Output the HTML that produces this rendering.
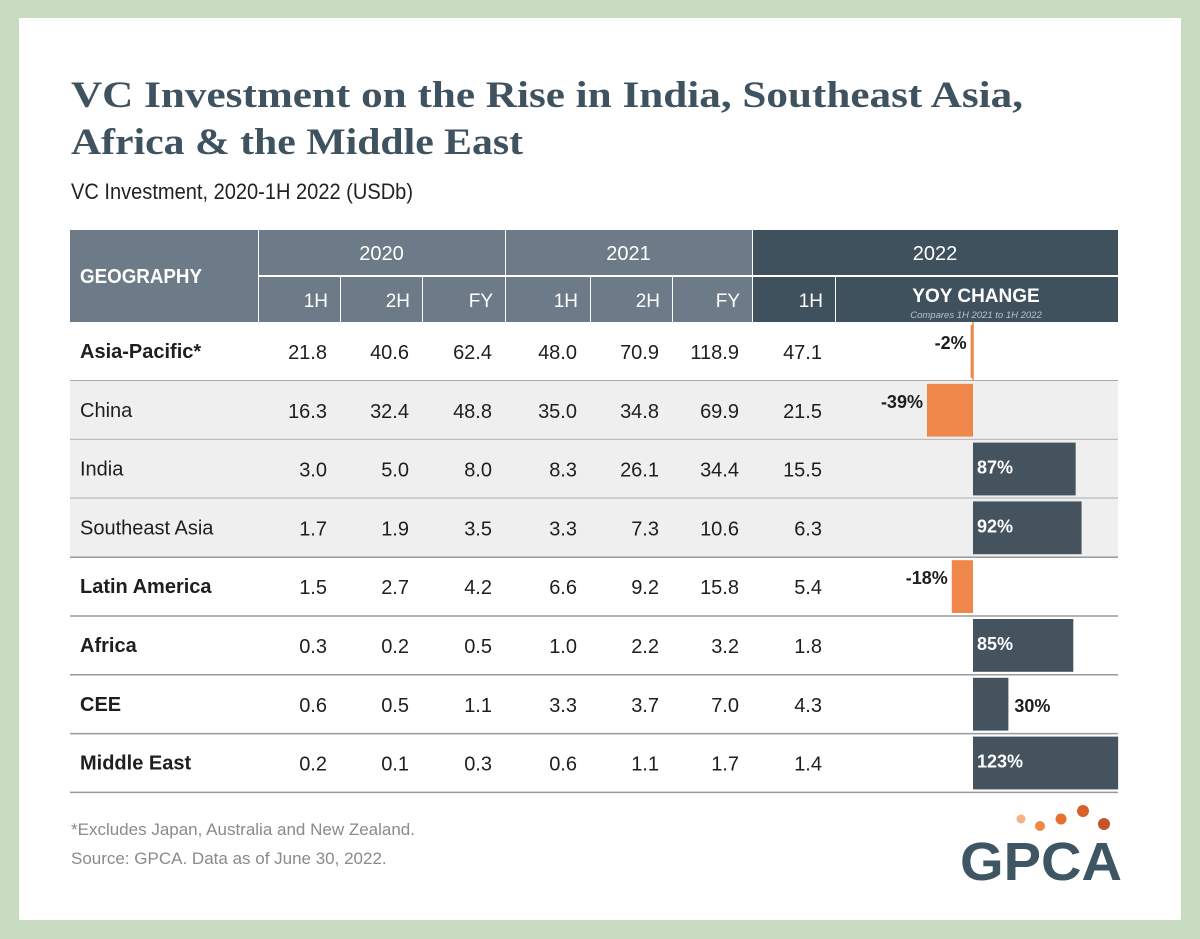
<!DOCTYPE html>
<html><head><meta charset="utf-8">
<style>
html,body{margin:0;padding:0;background:#c9dbc0;}
svg{display:block;}
</style></head>
<body>
<svg id="chart" width="1200" height="939" viewBox="0 0 1200 939" xmlns="http://www.w3.org/2000/svg" font-family="Liberation Sans, sans-serif">
<rect x="0" y="0" width="1200" height="939" fill="#c9dbc0"/>
<rect x="19" y="18" width="1162" height="902" fill="#ffffff"/>
<text x="71" y="107" style="font-family:'Liberation Serif',serif" font-weight="bold" font-size="37" fill="#3e5260" textLength="952" lengthAdjust="spacingAndGlyphs">VC Investment on the Rise in India, Southeast Asia,</text>
<text x="71" y="154" style="font-family:'Liberation Serif',serif" font-weight="bold" font-size="37" fill="#3e5260" textLength="452" lengthAdjust="spacingAndGlyphs">Africa &amp; the Middle East</text>
<text x="71" y="199" font-size="22" fill="#222" textLength="342" lengthAdjust="spacingAndGlyphs">VC Investment, 2020-1H 2022 (USDb)</text>
<g id="table"></g>
<text x="71" y="835" font-size="17" fill="#8a8a8a">*Excludes Japan, Australia and New Zealand.</text>
<text x="71" y="864" font-size="17" fill="#8a8a8a">Source: GPCA. Data as of June 30, 2022.</text>
<g>
<circle cx="1021" cy="819" r="4.5" fill="#f3b384"/>
<circle cx="1040" cy="826" r="5" fill="#ee8a45"/>
<circle cx="1061" cy="819" r="5.5" fill="#e8702f"/>
<circle cx="1083" cy="811" r="6" fill="#d8602a"/>
<circle cx="1104" cy="824" r="6" fill="#c4552a"/>
<text x="960" y="880" font-size="54" font-weight="bold" fill="#3e5663" textLength="162" lengthAdjust="spacingAndGlyphs">GPCA</text>
</g>
</svg>
<script>
const geographies = ["Asia-Pacific*","China","India","Southeast Asia","Latin America","Africa","CEE","Middle East"];
const h1_2020 = [21.8,16.3,3.0,1.7,1.5,0.3,0.6,0.2];
const h2_2020 = [40.6,32.4,5.0,1.9,2.7,0.2,0.5,0.1];
const fy_2020 = [62.4,48.8,8.0,3.5,4.2,0.5,1.1,0.3];
const h1_2021 = [48.0,35.0,8.3,3.3,6.6,1.0,3.3,0.6];
const h2_2021 = [70.9,34.8,26.1,7.3,9.2,2.2,3.7,1.1];
const fy_2021 = [118.9,69.9,34.4,10.6,15.8,3.2,7.0,1.7];
const h1_2022 = [47.1,21.5,15.5,6.3,5.4,1.8,4.3,1.4];
const yoyChange = [-2,-39,87,92,-18,85,30,123];

const NS="http://www.w3.org/2000/svg";
const g=document.getElementById('table');
function mk(tag,attrs,txt){const e=document.createElementNS(NS,tag);for(const k in attrs)e.setAttribute(k,attrs[k]);if(txt!==undefined)e.textContent=txt;g.appendChild(e);return e;}

const colEdges=[70,258,340,422,505,590,672,752,835,1118];
const rowTop=322, rowH=58.8;
const zeroX=973, pxPerPct=1.18;
const xScale=v=>zeroX+v*pxPerPct;
const yRow=i=>rowTop+i*rowH;

let e;
e=mk('rect',{x:70,y:230,width:188,height:92,fill:'#6c7b87'});


e=mk('text',{x:80,y:283,'font-size':20,'font-weight':'bold',fill:'#fff',textLength:122,lengthAdjust:'spacingAndGlyphs'},'GEOGRAPHY');


const years=[['2020',258,505,'#6c7b87'],['2021',505,752,'#6c7b87'],['2022',752,1118,'#3f515d']];
years.forEach(y=>{
  e=mk('rect',{x:y[1]+1,y:230,width:y[2]-y[1]-1,height:45,fill:y[3]});
  
  
  e=mk('text',{x:(y[1]+y[2])/2,y:260,'font-size':20,fill:'#fff','text-anchor':'middle'},y[0]);
  
  
});
const subs=['1H','2H','FY','1H','2H','FY','1H'];
subs.forEach((s,i)=>{
  const x0=colEdges[i+1],x1=colEdges[i+2];
  e=mk('rect',{x:x0+1,y:277,width:x1-x0-1,height:45,fill:i<6?'#6c7b87':'#3f515d'});
  
  
  e=mk('text',{x:x1-12,y:307,'font-size':19,fill:'#fff','text-anchor':'end'},s);
  
  
});
e=mk('rect',{x:836,y:277,width:282,height:45,fill:'#3f515d'});


e=mk('text',{x:976,y:302,'font-size':19,'font-weight':'bold',fill:'#fff','text-anchor':'middle'},'YOY CHANGE');


e=mk('text',{x:976,y:318,'font-size':9.5,'font-style':'italic',fill:'#b8c2c9','text-anchor':'middle'},'Compares 1H 2021 to 1H 2022');



const shaded=[false,true,true,true,false,false,false,false];
const cols=[h1_2020,h2_2020,fy_2020,h1_2021,h2_2021,fy_2021,h1_2022];
geographies.forEach((name,i)=>{
  const y=yRow(i);
  if(shaded[i]){
    e=mk('rect',{x:70,y:y,width:1048,height:rowH,fill:'#efefef'});
    
    
  }
  e=mk('text',{x:80,y:y+36,'font-size':20,fill:'#1e1e1e','font-weight':(i===0||i===4||i===5||i===6||i===7)?'bold':'normal'},name);
  
  
  cols.forEach((c,j)=>{
    e=mk('text',{x:colEdges[j+2]-13,y:y+37,'font-size':20,fill:'#1e1e1e','text-anchor':'end'},c[i].toFixed(1));
    
    
  });
  const v=yoyChange[i];
  const x0=Math.min(xScale(0),xScale(v)), w=Math.abs(xScale(v)-xScale(0));
  e=mk('rect',{x:x0,y:y+3,width:Math.max(w,1.5),height:rowH-6,fill:v<0?'#f0874a':'#44535e'});
  
  
  const lab=v+'%';
  if(v<0){
    e=mk('text',{x:xScale(v)-4,y:y+27,'font-size':18,'font-weight':'bold',fill:'#1e1e1e','text-anchor':'end'},lab);
  } else if(w>60){
    e=mk('text',{x:zeroX+4,y:y+34,'font-size':18,'font-weight':'bold',fill:'#fff'},lab);
  } else {
    e=mk('text',{x:xScale(v)+6,y:y+37,'font-size':18,'font-weight':'bold',fill:'#1e1e1e'},lab);
  }
  
  
  e=mk('line',{x1:70,x2:1118,y1:y+rowH,y2:y+rowH,stroke:'#9a9a9a','stroke-width':1.5});
  
  
});
e=mk('line',{x1:zeroX,x2:zeroX,y1:rowTop,y2:rowTop+rowH,stroke:'#f0874a','stroke-width':1.5});


</script>
</body></html>
